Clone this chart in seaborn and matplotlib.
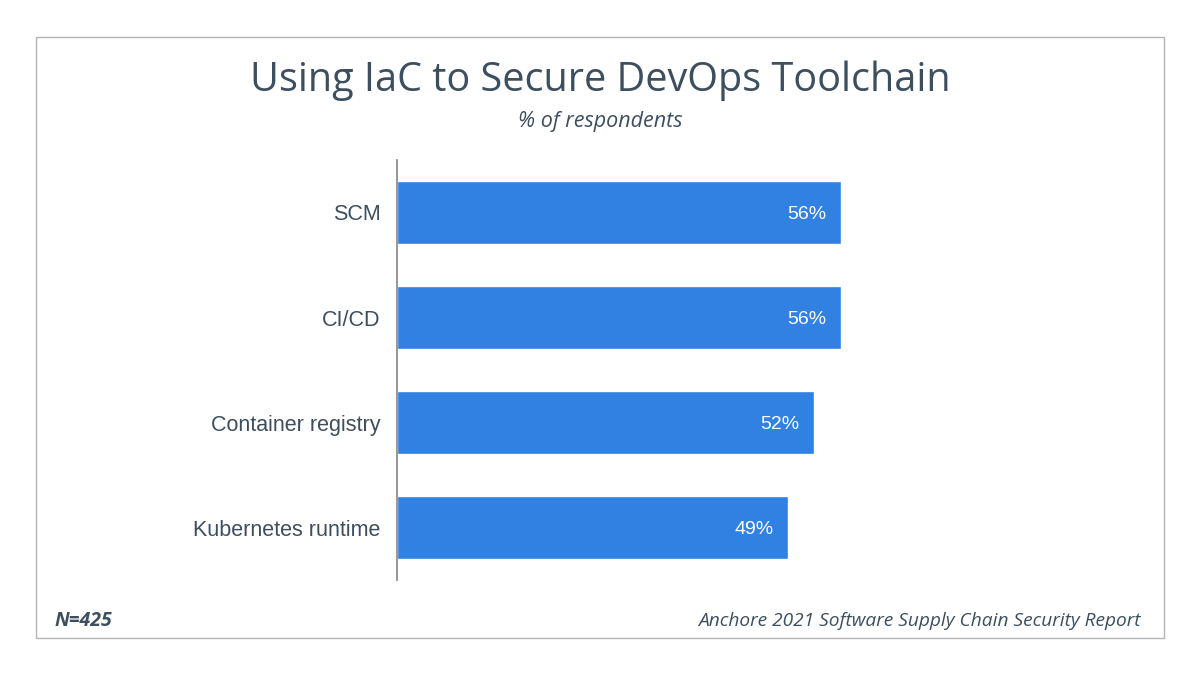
import matplotlib
matplotlib.use("Agg")
import matplotlib.pyplot as plt
import seaborn as sns
import pandas as pd
from matplotlib.patches import Rectangle

categories = ["SCM", "CI/CD", "Container registry", "Kubernetes runtime"]
values = [56.0, 56.0, 52.6, 49.3]
labels = ["56%", "56%", "52%", "49%"]

df = pd.DataFrame({"tool": categories, "pct": values})

sns.set_theme(style="white")
plt.rcParams['font.family'] = ['Liberation Sans', 'DejaVu Sans']

text_col = "#3d4f5e"
bar_col = "#3081e2"
head_font = ["Open Sans", "DejaVu Sans"]

fig = plt.figure(figsize=(12, 6.75), dpi=100)
ax = fig.add_axes([397/1200, (675-580)/675, (1150-397)/1200, 420/675])

sns.barplot(data=df, x="pct", y="tool", color=bar_col, width=0.6,
            saturation=1, ax=ax, orient="h")
ax.set_xlim(0, 95)
ax.set_ylim(3.5, -0.5)

for i, (v, lab) in enumerate(zip(values, labels)):
    ax.text(v - 1.8, i + 0.02, lab, color="white", fontsize=14,
            ha="right", va="center")

sns.despine(ax=ax, top=True, right=True, bottom=True)
ax.spines['left'].set_color("#8a8f94")
ax.spines['left'].set_linewidth(1.3)
ax.set_xticks([])
ax.set_xlabel("")
ax.set_ylabel("")
ax.tick_params(axis="y", length=0, pad=12, labelsize=15.5, labelcolor=text_col)

# frame around the whole card
fig.patches.append(Rectangle((36/1200, 37/675), 1128/1200, 601/675,
                             transform=fig.transFigure, fill=False,
                             edgecolor="#b5b5b5", linewidth=1))

fig.text(0.5, (675-81)/675, "Using IaC to Secure DevOps Toolchain",
         ha="center", va="center", fontsize=28.5, color=text_col,
         family=head_font)
fig.text(0.5, (675-121)/675, "% of respondents", ha="center", va="center",
         fontsize=15.5, style="italic", color=text_col, family=head_font)
fig.text(55/1200, (675-621)/675, "N=425", ha="left", va="center",
         fontsize=14, style="italic", weight="bold", color=text_col,
         family=head_font)
fig.text(1141/1200, (675-621)/675, "Anchore 2021 Software Supply Chain Security Report",
         ha="right", va="center", fontsize=13.8, style="italic", color=text_col,
         family=head_font)

fig.savefig("out.png", dpi=100, facecolor="white")
